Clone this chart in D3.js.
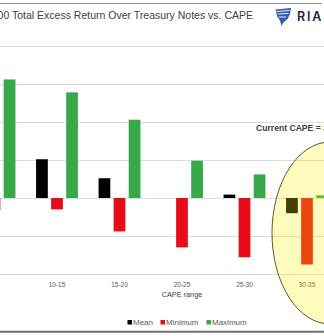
<!DOCTYPE html>
<html>
<head>
<meta charset="utf-8">
<script src="https://cdn.jsdelivr.net/npm/d3@7"></script>
<style>
  html, body { margin: 0; padding: 0; background: #fff; }
  svg { display: block; font-family: "Liberation Sans", Arial, sans-serif; }
</style>
</head>
<body>
<svg id="chart" width="324" height="336"></svg>
<script>
// CAPE buckets and the excess return statistics for each one (percentage points)
const categories = ["5-10", "10-15", "15-20", "20-25", "25-30", "30-35"];
const meanValues = [6.4, 5.1, 2.6, 0.0, 0.45, -2.0];
const minValues  = [-1.6, -1.5, -4.4, -6.5, -7.8, -8.75];
const maxValues  = [15.6, 13.9, 10.3, 4.9, 3.1, 0.35];
const seriesNames = ["Mean", "Minimum", "Maximum"];
const yTicks = [-10, -5, 0, 5, 10, 15, 20];
const titleText = "S&P 500 Total Excess Return Over Treasury Notes vs. CAPE";
const noteText = "Current CAPE = 37";
const axisTitle = "CAPE range";

const colors = { Mean: "#000000", Minimum: "#e60d18", Maximum: "#38a84a" };
const seriesValues = { Mean: meanValues, Minimum: minValues, Maximum: maxValues };

const svg = d3.select("#chart");
const W = 324, H = 336;

// frame lines
svg.append("line").attr("x1", 0).attr("x2", 322).attr("y1", 3.5).attr("y2", 3.5)
  .attr("stroke", "#8c8c8c").attr("stroke-width", 1);
svg.append("line").attr("x1", 0).attr("x2", W).attr("y1", 331.8).attr("y2", 331.8)
  .attr("stroke", "#6e6e6e").attr("stroke-width", 2);

// title
svg.append("text").attr("x", 253).attr("y", 18.5).attr("text-anchor", "end")
  .attr("font-size", 10.5).attr("fill", "#404040").text(titleText);

// logo
const logo = svg.append("g");
logo.append("path")
  .attr("d", "M275.5,9.5 L291,8 L290,14 L287.5,19 L283.5,22.5 L281.5,26 L280,20.5 L277,16 Z")
  .attr("fill", "#2f5ea9");
[[276.5, 11.5, 289.5, 10.5], [277.5, 14, 288.5, 13.5], [279, 17, 286, 17]].forEach(s => {
  logo.append("line").attr("x1", s[0]).attr("y1", s[1]).attr("x2", s[2]).attr("y2", s[3])
    .attr("stroke", "#ffffff").attr("stroke-width", 0.9);
});
logo.append("text").attr("x", 297).attr("y", 21)
  .attr("font-family", "Inter, 'Liberation Sans', sans-serif")
  .attr("font-weight", 600).attr("font-size", 12.5).attr("letter-spacing", 1.8)
  .attr("fill", "#1d2745").text("RIA");

// scales
const x = d3.scaleBand().domain(categories).range([-36.75, 338.25])
  .paddingInner(0.33).paddingOuter(0.165);
const xSub = d3.scaleBand().domain(seriesNames).range([0, x.bandwidth()]).paddingInner(0.22);
const y = d3.scaleLinear().domain([-10, 20]).range([274, 46]);

// horizontal gridlines
const grid = svg.append("g").attr("transform", "translate(-40,0)")
  .call(d3.axisLeft(y).tickValues(yTicks).tickSize(-(W + 80)).tickFormat(""));
grid.select(".domain").remove();
grid.selectAll(".tick line").attr("stroke", "#dcdcdc").attr("stroke-width", 1);

// bars
const rows = categories.map((c, i) => ({ cat: c, vals: seriesNames.map(s => ({ s, v: seriesValues[s][i] })) }));
const groups = svg.append("g").selectAll("g").data(rows).join("g")
  .attr("transform", d => `translate(${x(d.cat)},0)`);
groups.selectAll("rect").data(d => d.vals).join("rect")
  .attr("x", d => xSub(d.s))
  .attr("width", xSub.bandwidth())
  .attr("y", d => y(Math.max(0, d.v)))
  .attr("height", d => Math.abs(y(d.v) - y(0)))
  .attr("fill", d => colors[d.s]);

// category axis (only buckets whose label sits inside the frame)
const labelled = categories.filter(c => x(c) + x.bandwidth() / 2 > 10);
const xAxis = svg.append("g").attr("transform", "translate(0,274)")
  .call(d3.axisBottom(x).tickValues(labelled).tickSize(0).tickPadding(8));
xAxis.select(".domain").remove();
xAxis.selectAll("text").attr("font-size", 6.5).attr("fill", "#595959")
  .attr("font-family", "'Liberation Sans', Arial, sans-serif");

svg.append("text").attr("x", 182).attr("y", 296.5).attr("text-anchor", "middle")
  .attr("font-size", 7.3).attr("fill", "#404040").text(axisTitle);

// annotation
svg.append("text").attr("x", 256).attr("y", 130.8)
  .attr("font-size", 8.6).attr("font-weight", "bold").attr("fill", "#404040").text(noteText);

// highlight ellipse over the latest bucket
svg.append("ellipse").attr("cx", 330).attr("cy", 233).attr("rx", 58).attr("ry", 91)
  .attr("fill", "rgb(255,240,0)").attr("fill-opacity", 0.26)
  .attr("stroke", "#5a583a").attr("stroke-width", 1);

// legend
const legendX = [127.5, 160.5, 206.5];
const legend = svg.append("g").selectAll("g").data(seriesNames).join("g")
  .attr("transform", (d, i) => `translate(${legendX[i]},320)`);
legend.append("rect").attr("width", 4.5).attr("height", 4.5).attr("fill", d => colors[d]);
legend.append("text").attr("x", 5.5).attr("y", 4.8).attr("font-size", 8)
  .attr("fill", "#595959").text(d => d);
</script>
</body>
</html>
